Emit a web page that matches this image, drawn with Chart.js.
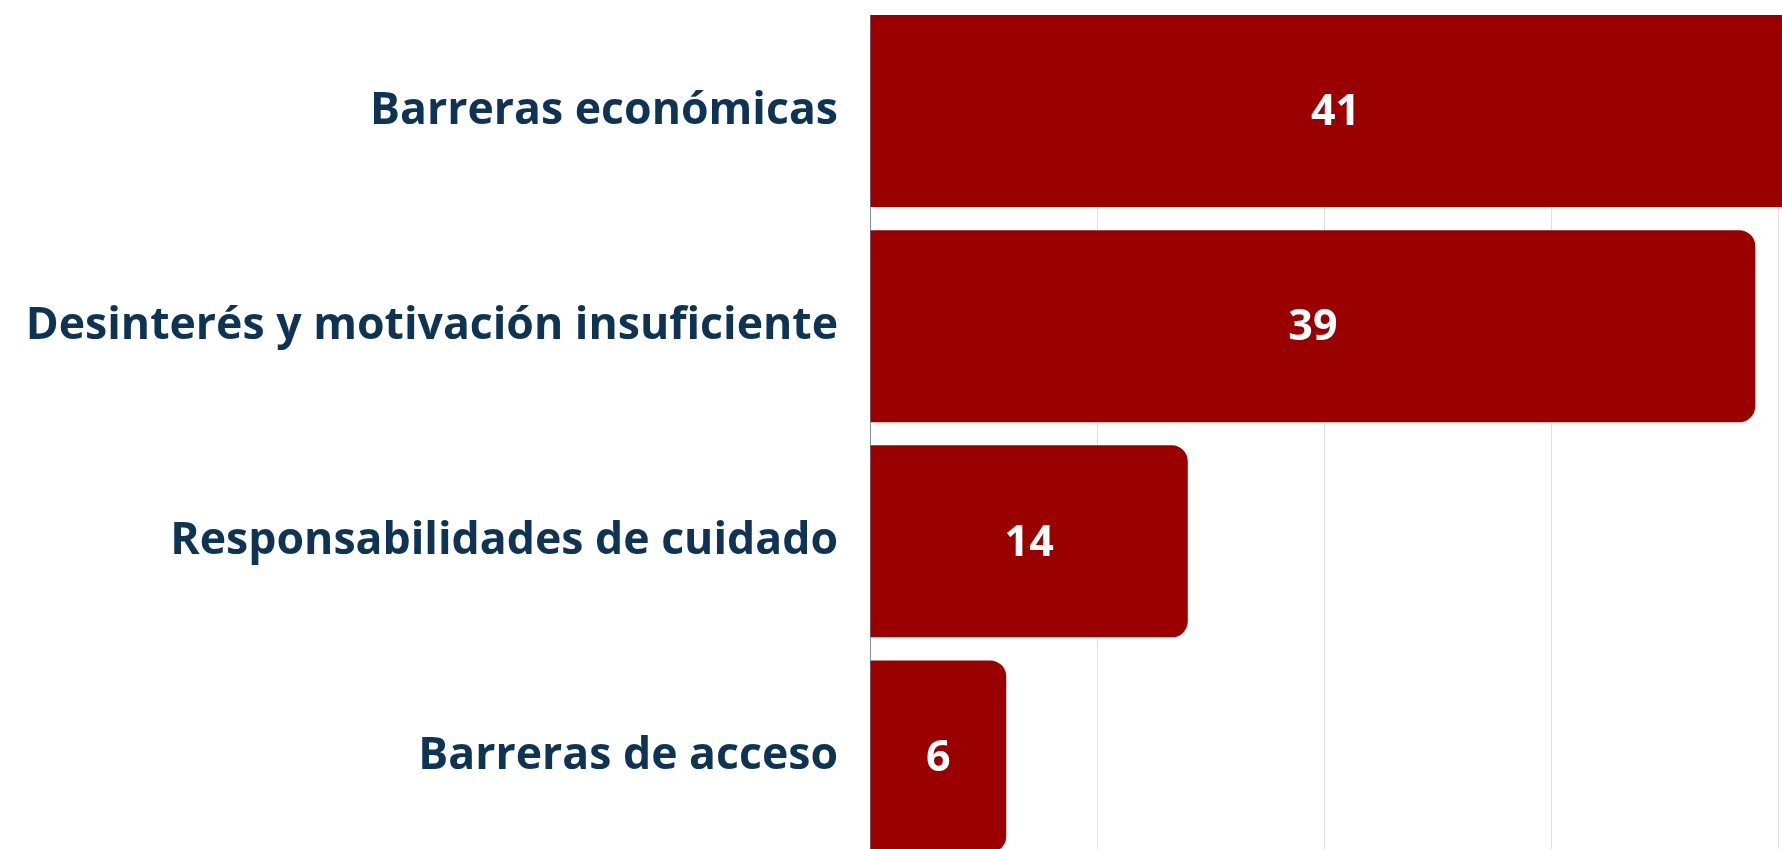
<!DOCTYPE html>
<html>
<head>
<meta charset="utf-8">
<script src="https://cdn.jsdelivr.net/npm/chart.js@4"></script>
<style>
  html, body { margin: 0; padding: 0; background: #ffffff; overflow: hidden; }
  #wrap { position: relative; width: 1782px; height: 868px; }
</style>
</head>
<body>
<div id="wrap"><canvas id="c"></canvas></div>
<script>
const categories = [
  "Barreras económicas",
  "Desinterés y motivación insuficiente",
  "Responsabilidades de cuidado",
  "Barreras de acceso"
];
const values = [41, 39, 14, 6];
const xTicks = [0, 10, 20, 30, 40];

const FONT = "'Open Sans', 'DejaVu Sans', sans-serif";

// hide the grid/axis above the first bar (reference starts lines at the first bar's top)
const trimTop = {
  id: 'trimTop',
  beforeDatasetsDraw(chart) {
    const meta = chart.getDatasetMeta(0);
    if (!meta.data.length) return;
    const first = meta.data[0].getProps(['y', 'height'], true);
    const top = first.y - first.height / 2;
    const ctx = chart.ctx;
    ctx.save();
    ctx.fillStyle = '#ffffff';
    ctx.fillRect(chart.chartArea.left - 2, 0, chart.width, top);
    ctx.restore();
  }
};

const valueLabels = {
  id: 'valueLabels',
  afterDatasetsDraw(chart) {
    const ctx = chart.ctx;
    const meta = chart.getDatasetMeta(0);
    ctx.save();
    ctx.fillStyle = '#ffffff';
    ctx.font = '700 43px ' + FONT;
    ctx.textAlign = 'center';
    ctx.textBaseline = 'middle';
    meta.data.forEach((bar, i) => {
      const p = bar.getProps(['x', 'y', 'base'], true);
      ctx.fillText(String(values[i]), (p.x + p.base) / 2, p.y + 2);
    });
    ctx.restore();
  }
};

new Chart(document.getElementById('c'), {
  type: 'bar',
  data: {
    labels: categories,
    datasets: [{
      data: values,
      backgroundColor: '#9b0000',
      borderWidth: 0,
      borderRadius: 16,
      borderSkipped: 'start',
      barPercentage: 0.893,
      categoryPercentage: 1.0,
      clip: false
    }]
  },
  options: {
    indexAxis: 'y',
    responsive: true,
    maintainAspectRatio: false,
    animation: false,
    layout: { padding: { top: 3.5, right: 4, bottom: 4, left: 0 } },
    plugins: { legend: { display: false }, tooltip: { enabled: false } },
    scales: {
      x: {
        min: 0,
        max: 40,
        afterBuildTicks(scale) { scale.ticks = xTicks.map(v => ({ value: v })); },
        ticks: { display: false },
        grid: { color: '#dcdfe4', lineWidth: 1, drawTicks: false },
        border: { display: false }
      },
      y: {
        afterFit(scale) {
          scale.width = 870;
          scale.paddingTop = 0;
          scale.paddingBottom = 0;
        },
        ticks: {
          color: '#0f3352',
          font: { family: FONT, weight: '700', size: 44.6 },
          padding: 32
        },
        grid: { display: false, drawTicks: false },
        border: { display: true, color: '#7f93a8', width: 1 }
      }
    }
  },
  plugins: [trimTop, valueLabels]
});
</script>
</body>
</html>
